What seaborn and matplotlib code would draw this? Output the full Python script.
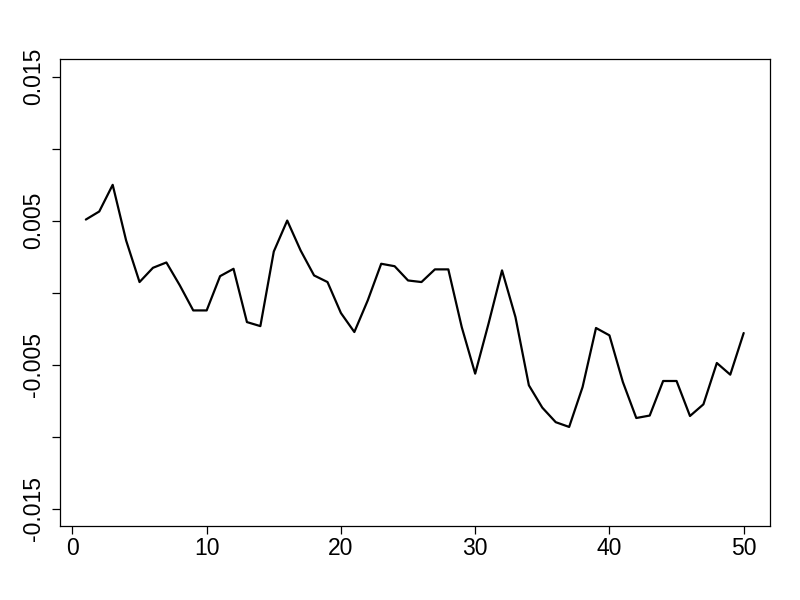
import numpy as np
import pandas as pd
import matplotlib
matplotlib.use("Agg")
import matplotlib.pyplot as plt
import seaborn as sns

x_index = list(range(1, 51))
y_values = [
    0.00508, 0.00564, 0.00749, 0.00363, 0.00074, 0.00173, 0.00210, 0.00051, -0.00123, -0.00123,
    0.00115, 0.00166, -0.00204, -0.00232, 0.00286, 0.00501, 0.00293, 0.00120, 0.00074, -0.00141,
    -0.00273, -0.00053, 0.00201, 0.00184, 0.00085, 0.00074, 0.00162, 0.00162, -0.00239, -0.00562,
    -0.00213, 0.00155, -0.00169, -0.00643, -0.00798, -0.00899, -0.00932, -0.00655, -0.00245, -0.00296,
    -0.00620, -0.00870, -0.00853, -0.00613, -0.00613, -0.00856, -0.00775, -0.00488, -0.00569, -0.00280,
]
x_ticks = [0, 10, 20, 30, 40, 50]
y_ticks = [-0.015, -0.010, -0.005, 0.0, 0.005, 0.010, 0.015]
y_tick_labels = ["-0.015", "", "-0.005", "", "0.005", "", "0.015"]

sns.set_theme(style="white")
plt.rcParams['font.family'] = ['Liberation Sans', 'DejaVu Sans']

df = pd.DataFrame({"x": x_index, "y": y_values})

fig = plt.figure(figsize=(8, 6), dpi=100)
ax = fig.add_axes([0.0744, 0.1233, 0.9625 - 0.0744, 0.901 - 0.1233])
sns.lineplot(data=df, x="x", y="y", ax=ax, color="black", linewidth=1.6)

ax.set_xlim(-0.96, 51.96)
ax.set_ylim(-0.0162, 0.0162)
ax.set_xticks(x_ticks)
ax.set_xticklabels([str(t) for t in x_ticks], fontsize=16.5)
ax.set_yticks(y_ticks)
ax.set_yticklabels(y_tick_labels, fontsize=16.5, rotation=90, va="center")
ax.set_xlabel("")
ax.set_ylabel("")
for s in ax.spines.values():
    s.set_color("black")
    s.set_linewidth(0.9)
ax.tick_params(axis="both", which="both", direction="out", length=5.5, width=0.9,
               color="black", labelcolor="black", left=True, bottom=True)
ax.tick_params(axis="y", pad=5)
ax.tick_params(axis="x", pad=2.5)
ax.grid(False)

fig.savefig("out.png", dpi=100, facecolor="white")
